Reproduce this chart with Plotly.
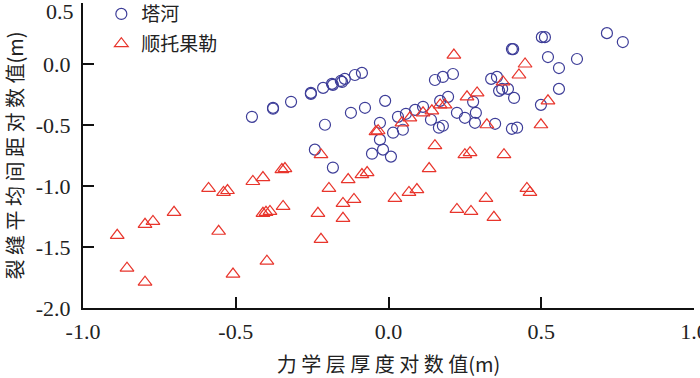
import plotly.graph_objects as go

# 塔河 (circles)
tahe_x = [-0.447, -0.378, -0.378, -0.319, -0.254, -0.254, -0.214, -0.185, -0.182, -0.156,
          -0.152, -0.143, -0.110, -0.087, -0.208, -0.241, -0.182, -0.123, -0.077, -0.011,
          -0.028, 0.015, 0.047, 0.031, 0.057, 0.087, 0.113, -0.028, -0.018, -0.054,
          0.008, 0.152, 0.178, 0.211, 0.195, 0.169, 0.139, 0.165, 0.178, 0.224,
          0.336, 0.355, 0.362, 0.372, 0.391, 0.411, 0.277, 0.286, 0.250, 0.283,
          0.349, 0.404, 0.421, 0.499, 0.404, 0.408, 0.502, 0.512, 0.522, 0.558,
          0.558, 0.617, 0.715, 0.767]
tahe_y = [-0.433, -0.359, -0.367, -0.310, -0.237, -0.245, -0.196, -0.163, -0.171, -0.139,
          -0.147, -0.122, -0.090, -0.073, -0.498, -0.702, -0.849, -0.400, -0.359, -0.302,
          -0.482, -0.563, -0.539, -0.433, -0.408, -0.376, -0.351, -0.620, -0.702, -0.735,
          -0.759, -0.131, -0.106, -0.082, -0.269, -0.302, -0.457, -0.522, -0.506, -0.400,
          -0.122, -0.106, -0.220, -0.204, -0.204, -0.278, -0.310, -0.400, -0.441, -0.482,
          -0.490, -0.531, -0.522, -0.335, 0.122, 0.122, 0.220, 0.220, 0.057, -0.033,
          -0.204, 0.041, 0.253, 0.180]

# 顺托果勒 (triangles)
stgl_x = [-0.888, -0.856, -0.797, -0.797, -0.771, -0.702, -0.589, -0.556, -0.540, -0.527,
          -0.509, -0.444, -0.411, -0.411, -0.401, -0.388, -0.398, -0.345, -0.349, -0.339,
          -0.231, -0.221, -0.221, -0.195, -0.149, -0.149, -0.132, -0.113, -0.087, -0.070,
          -0.041, -0.034, 0.021, 0.044, 0.070, 0.067, 0.093, 0.113, 0.142, 0.169,
          0.185, 0.133, 0.152, 0.214, 0.224, 0.250, 0.267, 0.257, 0.270, 0.290,
          0.319, 0.322, 0.345, 0.375, 0.378, 0.427, 0.447, 0.453, 0.463, 0.499,
          0.522]
stgl_y = [-1.404, -1.673, -1.788, -1.314, -1.290, -1.216, -1.020, -1.371, -1.053, -1.037,
          -1.722, -0.963, -0.931, -1.224, -1.216, -1.208, -1.616, -1.167, -0.865, -0.857,
          -1.224, -1.437, -0.743, -1.020, -1.143, -1.265, -0.947, -1.110, -0.906, -0.890,
          -0.555, -0.547, -1.102, -0.482, -0.441, -1.053, -1.029, -0.400, -0.384, -0.335,
          -0.335, -0.857, -0.669, 0.073, -1.192, -0.743, -0.727, -0.269, -1.208, -0.237,
          -1.102, -0.498, -1.257, -0.147, -0.743, -0.090, 0.000, -1.020, -1.053, -0.498,
          -0.302]

x_ticks = [-1.0, -0.5, 0.0, 0.5, 1.0]
y_ticks = [-2.0, -1.5, -1.0, -0.5, 0.0, 0.5]

NUM_FONT = "Liberation Serif"
CJK_FONT = "Noto Sans CJK SC"

fig = go.Figure()
fig.add_trace(go.Scatter(
    x=tahe_x, y=tahe_y, mode="markers", name="塔河", legendgroup="a",
    marker={"symbol": "circle-open", "size": 11, "color": "#3d3d98",
            "line": {"width": 1.2}},
))
fig.add_trace(go.Scatter(
    x=stgl_x, y=stgl_y, mode="markers", name="顺托果勒", legendgroup="b",
    marker={"symbol": "triangle-up-open", "size": 12, "color": "#e8352c",
            "line": {"width": 1.2}},
))

axis_common = dict(
    showline=True, linewidth=2, linecolor="#111", mirror=False,
    ticks="inside", ticklen=11, tickwidth=1.5, tickcolor="#111",
    showgrid=False, zeroline=False, ticklabeloverflow="allow",
    tickfont={"family": NUM_FONT, "size": 22, "color": "#222"},
)
fig.update_xaxes(
    range=[-1.0, 1.0], tickvals=x_ticks, ticktext=[f"{v:.1f}" for v in x_ticks],
    ticklabelstandoff=3,
    title={"text": " ".join("力学层厚度对数值") + "(m)", "standoff": 17,
           "font": {"family": CJK_FONT, "size": 20, "color": "#222"}},
    **axis_common,
)
fig.update_yaxes(
    range=[-2.0, 0.5], tickvals=y_ticks,
    ticktext=[f"{v:.1f}" if v < 0.5 else "" for v in y_ticks],
    ticklabelstandoff=6,
    title={"text": " ".join("裂缝平均间距对数值") + "(m)", "standoff": 8,
           "font": {"family": CJK_FONT, "size": 20, "color": "#222"}},
    **axis_common,
)
# top label pushed down so it stays inside the picture
fig.add_annotation(
    text="0.5", x=0, xref="paper", xanchor="right", xshift=-7,
    y=0.5, yref="y", yanchor="middle", yshift=-8, showarrow=False,
    font={"family": NUM_FONT, "size": 22, "color": "#222"},
)
fig.update_layout(
    width=700, height=378,
    margin={"l": 83, "r": 6, "t": 3, "b": 70, "autoexpand": False},
    plot_bgcolor="white", paper_bgcolor="white",
    showlegend=True,
    legend={"x": 0.03, "y": 1.026, "xanchor": "left", "yanchor": "top",
            "bgcolor": "rgba(0,0,0,0)", "traceorder": "grouped", "tracegroupgap": 2,
            "font": {"family": CJK_FONT, "size": 19, "color": "#222"}},
)

fig.write_html("out.html", config={"displayModeBar": False},
               post_script="document.body.style.margin='0';")
